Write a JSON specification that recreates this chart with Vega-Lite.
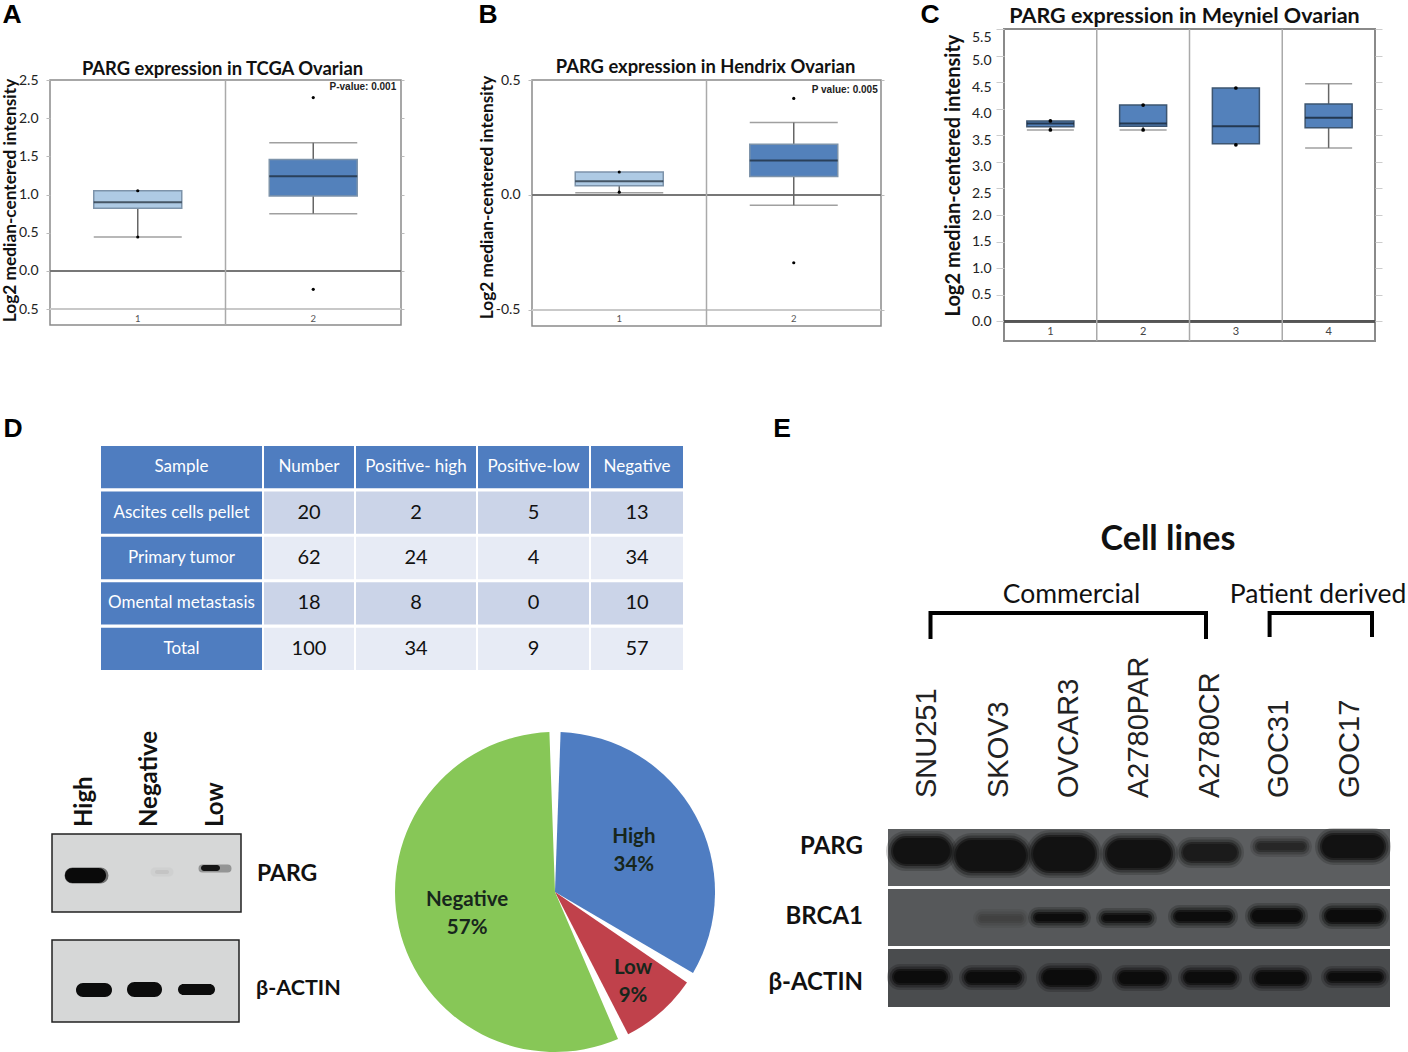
{"$schema":"https://vega.github.io/schema/vega-lite/v6.json","padding":0,"background":"white","bounds":"flush","spacing":0,
"config":{"view":{"stroke":null},"scale":{"bandPaddingInner":0,"bandPaddingOuter":0},"text":{"font":"Liberation Sans"}},
"datasets":{"table":[
{"col":"Sample","row":"Header","value":"Sample"},{"col":"Sample","row":"Ascites cells pellet","value":"Ascites cells pellet"},{"col":"Sample","row":"Primary tumor","value":"Primary tumor"},{"col":"Sample","row":"Omental metastasis","value":"Omental metastasis"},{"col":"Sample","row":"Total","value":"Total"},
{"col":"Number","row":"Header","value":"Number"},{"col":"Number","row":"Ascites cells pellet","value":"20"},{"col":"Number","row":"Primary tumor","value":"62"},{"col":"Number","row":"Omental metastasis","value":"18"},{"col":"Number","row":"Total","value":"100"},
{"col":"High","row":"Header","value":"Positive- high"},{"col":"High","row":"Ascites cells pellet","value":"2"},{"col":"High","row":"Primary tumor","value":"24"},{"col":"High","row":"Omental metastasis","value":"8"},{"col":"High","row":"Total","value":"34"},
{"col":"Low","row":"Header","value":"Positive-low"},{"col":"Low","row":"Ascites cells pellet","value":"5"},{"col":"Low","row":"Primary tumor","value":"4"},{"col":"Low","row":"Omental metastasis","value":"0"},{"col":"Low","row":"Total","value":"9"},
{"col":"Negative","row":"Header","value":"Negative"},{"col":"Negative","row":"Ascites cells pellet","value":"13"},{"col":"Negative","row":"Primary tumor","value":"34"},{"col":"Negative","row":"Omental metastasis","value":"10"},{"col":"Negative","row":"Total","value":"57"}],
"pie":[{"name":"High","pct":34,"i":1,"label":"High\n34%"},{"name":"Low","pct":9,"i":2,"label":"Low\n9%"},{"name":"Negative","pct":57,"i":3,"label":"Negative\n57%"}],
"gel":[{"start":5,"end":62,"top":9,"bottom":35,"density":0.97},{"start":68,"end":138,"top":11,"bottom":42,"density":0.97},{"start":145,"end":207,"top":8,"bottom":42,"density":0.97},{"start":219,"end":283,"top":11,"bottom":39,"density":0.97},{"start":295,"end":349,"top":15,"bottom":32,"density":0.92},{"start":369,"end":417,"top":14,"bottom":21,"density":0.85},{"start":434,"end":496,"top":6,"bottom":29,"density":0.97},
{"start":92,"end":134,"top":87,"bottom":92,"density":0.7},{"start":147,"end":196,"top":85,"bottom":92,"density":1},{"start":215,"end":262,"top":86,"bottom":92,"density":1},{"start":287,"end":343,"top":83,"bottom":92,"density":1},{"start":364,"end":413,"top":81,"bottom":93,"density":1},{"start":438,"end":494,"top":81,"bottom":93,"density":1},
{"start":6,"end":58,"top":142,"bottom":154,"density":1},{"start":78,"end":132,"top":143,"bottom":154,"density":1},{"start":155,"end":207,"top":141,"bottom":156,"density":1},{"start":231,"end":277,"top":143,"bottom":155,"density":1},{"start":297,"end":347,"top":143,"bottom":154,"density":1},{"start":368,"end":417,"top":143,"bottom":155,"density":1},{"start":440,"end":494,"top":144,"bottom":152,"density":1}]},
"vconcat":[
{"hconcat":[{"width":1,"height":1,"data":{"values":[{}]},"mark":{"type":"rect","opacity":0},"encoding":{}},{"vconcat":[{"width":1,"height":3,"data":{"values":[{}]},"mark":{"type":"rect","opacity":0},"encoding":{}},{"width":22,"height":24,"data":{"values":[{"t":"A"}]},"mark":{"type":"text","fontWeight":"bold","fontSize":26.5},"encoding":{"text":{"field":"t"}}}],"spacing":0,"bounds":"flush"}],"spacing":0,"bounds":"flush"},
{"hconcat":[{"width":476,"height":1,"data":{"values":[{}]},"mark":{"type":"rect","opacity":0},"encoding":{}},{"vconcat":[{"width":1,"height":3,"data":{"values":[{}]},"mark":{"type":"rect","opacity":0},"encoding":{}},{"width":24,"height":24,"data":{"values":[{"t":"B"}]},"mark":{"type":"text","fontWeight":"bold","fontSize":26.5},"encoding":{"text":{"field":"t"}}}],"spacing":0,"bounds":"flush"}],"spacing":0,"bounds":"flush"},
{"hconcat":[{"width":918,"height":1,"data":{"values":[{}]},"mark":{"type":"rect","opacity":0},"encoding":{}},{"vconcat":[{"width":1,"height":3,"data":{"values":[{}]},"mark":{"type":"rect","opacity":0},"encoding":{}},{"width":24,"height":24,"data":{"values":[{"t":"C"}]},"mark":{"type":"text","fontWeight":"bold","fontSize":26.5},"encoding":{"text":{"field":"t"}}}],"spacing":0,"bounds":"flush"}],"spacing":0,"bounds":"flush"},
{"hconcat":[{"width":1,"height":1,"data":{"values":[{}]},"mark":{"type":"rect","opacity":0},"encoding":{}},{"vconcat":[{"width":1,"height":417,"data":{"values":[{}]},"mark":{"type":"rect","opacity":0},"encoding":{}},{"width":24,"height":24,"data":{"values":[{"t":"D"}]},"mark":{"type":"text","fontWeight":"bold","fontSize":26.5},"encoding":{"text":{"field":"t"}}}],"spacing":0,"bounds":"flush"}],"spacing":0,"bounds":"flush"},
{"hconcat":[{"width":770,"height":1,"data":{"values":[{}]},"mark":{"type":"rect","opacity":0},"encoding":{}},{"vconcat":[{"width":1,"height":417,"data":{"values":[{}]},"mark":{"type":"rect","opacity":0},"encoding":{}},{"width":24,"height":24,"data":{"values":[{"t":"E"}]},"mark":{"type":"text","fontWeight":"bold","fontSize":26.5},"encoding":{"text":{"field":"t"}}}],"spacing":0,"bounds":"flush"}],"spacing":0,"bounds":"flush"},

{"hconcat":[{"width":50,"height":1,"data":{"values":[{}]},"mark":{"type":"rect","opacity":0},"encoding":{}},{"vconcat":[{"width":1,"height":80,"data":{"values":[{}]},"mark":{"type":"rect","opacity":0},"encoding":{}},
{"width":351,"height":245,"view":{"stroke":"#8a8a8a","strokeWidth":1.5},
"title":{"text":"PARG expression in TCGA Ovarian","font":"Lato","fontSize":18.4,"fontWeight":"bold","color":"#111","anchor":"middle","offset":-5,"dx":-3},
"data":{"values":[{"g":1,"q1":0.82,"q3":1.05,"med":0.9,"lo":0.445},{"g":2,"q1":0.98,"q3":1.46,"med":1.24,"lo":0.75,"hi":1.68},{"g":1,"out":1.05},{"g":1,"out":0.445},{"g":2,"out":2.27},{"g":2,"out":-0.24}]},
"resolve":{"axis":{"y":"independent"}},
"layer":[
{"mark":{"type":"rule","color":"#c8c8c8","strokeWidth":1.5},"encoding":{"y":{"datum":-0.5,"type":"quantitative","scale":{"domain":[-0.707,2.5],"nice":false,"zero":false},"axis":{"orient":"left","values":[2.5,2,1.5,1,0.5,0,-0.5],"labelExpr":"format(abs(datum.value),'.1f')","title":"Log2 median-centered intensity","titleFont":"Lato","titleFontSize":17.3,"titleFontWeight":"bold","titleColor":"#111","titleX":-40,"titleY":120,"titleBaseline":"middle","domain":false,"tickSize":4,"tickColor":"#bbb","labelFont":"Lato","labelFontSize":14,"labelColor":"#222","labelPadding":8}}}},
{"mark":{"type":"rule","color":"#777","strokeWidth":1.5},"encoding":{"y":{"datum":0,"type":"quantitative","axis":null}}},
{"transform":[{"filter":"datum.g>1 && isValid(datum.q1)"}],"mark":{"type":"rule","color":"#aaa","strokeWidth":1.5},"encoding":{"x":{"field":"g","type":"ordinal","bandPosition":0,"axis":null}}},
{"mark":{"type":"rule","color":"#666","strokeWidth":1.5},"encoding":{"x":{"field":"g","type":"ordinal","axis":null},"y":{"field":"lo","type":"quantitative","axis":null},"y2":{"field":"q1"}}},
{"mark":{"type":"rule","color":"#666","strokeWidth":1.5},"encoding":{"x":{"field":"g","type":"ordinal","axis":null},"y":{"field":"hi","type":"quantitative","axis":{"orient":"right","values":[2.5,2,1.5,1,0.5,0,-0.5],"labels":false,"title":null,"domain":false,"tickSize":3,"tickColor":"#bbb"}},"y2":{"field":"q3"}}},
{"mark":{"type":"tick","color":"#777","size":88,"thickness":1.5},"encoding":{"x":{"field":"g","type":"ordinal","axis":null},"y":{"field":"lo","type":"quantitative","axis":null}}},
{"mark":{"type":"tick","color":"#777","size":88,"thickness":1.5},"encoding":{"x":{"field":"g","type":"ordinal","axis":null},"y":{"field":"hi","type":"quantitative","axis":null}}},
{"mark":{"type":"bar","size":88,"stroke":"#7d93aa","strokeWidth":1.5},"encoding":{"x":{"field":"g","type":"ordinal","axis":null},"y":{"field":"q1","type":"quantitative","axis":null},"y2":{"field":"q3"},"fill":{"condition":{"test":"datum.g==1","value":"#aecae4"},"value":"#5381bb"}}},
{"mark":{"type":"tick","color":"#1a2530","size":88,"thickness":2},"encoding":{"x":{"field":"g","type":"ordinal","axis":null},"y":{"field":"med","type":"quantitative","axis":null}}},
{"mark":{"type":"circle","color":"#000","size":10,"opacity":1},"encoding":{"x":{"field":"g","type":"ordinal","axis":null},"y":{"field":"out","type":"quantitative","axis":null}}},
{"transform":[{"filter":"isValid(datum.q1)"}],"mark":{"type":"text","font":"Lato","fontSize":9.5,"color":"#555"},"encoding":{"x":{"field":"g","type":"ordinal","axis":null},"y":{"datum":-0.63,"type":"quantitative","axis":null},"text":{"field":"g","type":"ordinal"}}},
{"data":{"values":[{"g":2,"p":"P-value: 0.001"}]},"mark":{"type":"text","align":"right","dx":83,"fontSize":10,"fontWeight":"bold","color":"#222"},"encoding":{"x":{"field":"g","type":"ordinal","axis":null},"y":{"datum":2.41,"type":"quantitative","axis":null},"text":{"field":"p"}}}
]}],"spacing":0,"bounds":"flush"}],"spacing":0,"bounds":"flush"},

{"hconcat":[{"width":532,"height":1,"data":{"values":[{}]},"mark":{"type":"rect","opacity":0},"encoding":{}},{"vconcat":[{"width":1,"height":80,"data":{"values":[{}]},"mark":{"type":"rect","opacity":0},"encoding":{}},
{"width":349,"height":246,"view":{"stroke":"#8a8a8a","strokeWidth":1.5},
"title":{"text":"PARG expression in Hendrix Ovarian","font":"Lato","fontSize":18.4,"fontWeight":"bold","color":"#111","anchor":"middle","offset":-3,"dx":-1},
"data":{"values":[{"g":1,"q1":0.04,"q3":0.1,"med":0.06,"lo":0.01},{"g":2,"q1":0.08,"q3":0.22,"med":0.15,"lo":-0.045,"hi":0.315},{"g":1,"out":0.1},{"g":1,"out":0.012},{"g":2,"out":0.42},{"g":2,"out":-0.295}]},
"resolve":{"axis":{"y":"independent"}},
"layer":[
{"mark":{"type":"rule","color":"#c8c8c8","strokeWidth":1.5},"encoding":{"y":{"datum":-0.5,"type":"quantitative","scale":{"domain":[-0.57,0.5],"nice":false,"zero":false},"axis":{"orient":"left","values":[0.5,0,-0.5],"labelExpr":"(datum.value<0?'-':'')+format(abs(datum.value),'.1f')","title":"Log2 median-centered intensity","titleFont":"Lato","titleFontSize":17.3,"titleFontWeight":"bold","titleColor":"#111","titleX":-45,"titleY":117,"titleBaseline":"middle","domain":false,"tickSize":4,"tickColor":"#bbb","labelFont":"Lato","labelFontSize":14,"labelColor":"#222","labelPadding":8}}}},
{"mark":{"type":"rule","color":"#777","strokeWidth":1.5},"encoding":{"y":{"datum":0,"type":"quantitative","axis":null}}},
{"transform":[{"filter":"datum.g>1 && isValid(datum.q1)"}],"mark":{"type":"rule","color":"#aaa","strokeWidth":1.5},"encoding":{"x":{"field":"g","type":"ordinal","bandPosition":0,"axis":null}}},
{"mark":{"type":"rule","color":"#666","strokeWidth":1.5},"encoding":{"x":{"field":"g","type":"ordinal","axis":null},"y":{"field":"lo","type":"quantitative","axis":null},"y2":{"field":"q1"}}},
{"mark":{"type":"rule","color":"#666","strokeWidth":1.5},"encoding":{"x":{"field":"g","type":"ordinal","axis":null},"y":{"field":"hi","type":"quantitative","axis":{"orient":"right","values":[0.5,0,-0.5],"labels":false,"title":null,"domain":false,"tickSize":3,"tickColor":"#bbb"}},"y2":{"field":"q3"}}},
{"mark":{"type":"tick","color":"#777","size":88,"thickness":1.5},"encoding":{"x":{"field":"g","type":"ordinal","axis":null},"y":{"field":"lo","type":"quantitative","axis":null}}},
{"mark":{"type":"tick","color":"#777","size":88,"thickness":1.5},"encoding":{"x":{"field":"g","type":"ordinal","axis":null},"y":{"field":"hi","type":"quantitative","axis":null}}},
{"mark":{"type":"bar","size":88,"stroke":"#7d93aa","strokeWidth":1.5},"encoding":{"x":{"field":"g","type":"ordinal","axis":null},"y":{"field":"q1","type":"quantitative","axis":null},"y2":{"field":"q3"},"fill":{"condition":{"test":"datum.g==1","value":"#aecae4"},"value":"#5381bb"}}},
{"mark":{"type":"tick","color":"#1a2530","size":88,"thickness":2},"encoding":{"x":{"field":"g","type":"ordinal","axis":null},"y":{"field":"med","type":"quantitative","axis":null}}},
{"mark":{"type":"circle","color":"#000","size":10,"opacity":1},"encoding":{"x":{"field":"g","type":"ordinal","axis":null},"y":{"field":"out","type":"quantitative","axis":null}}},
{"transform":[{"filter":"isValid(datum.q1)"}],"mark":{"type":"text","font":"Lato","fontSize":9.5,"color":"#555"},"encoding":{"x":{"field":"g","type":"ordinal","axis":null},"y":{"datum":-0.54,"type":"quantitative","axis":null},"text":{"field":"g","type":"ordinal"}}},
{"data":{"values":[{"g":2,"p":"P value: 0.005"}]},"mark":{"type":"text","align":"right","dx":84,"fontSize":10,"fontWeight":"bold","color":"#222"},"encoding":{"x":{"field":"g","type":"ordinal","axis":null},"y":{"datum":0.455,"type":"quantitative","axis":null},"text":{"field":"p"}}}
]}],"spacing":0,"bounds":"flush"}],"spacing":0,"bounds":"flush"},

{"hconcat":[{"width":1004,"height":1,"data":{"values":[{}]},"mark":{"type":"rect","opacity":0},"encoding":{}},{"vconcat":[{"width":1,"height":29,"data":{"values":[{}]},"mark":{"type":"rect","opacity":0},"encoding":{}},
{"width":371,"height":312,"view":{"stroke":"#8a8a8a","strokeWidth":2},
"title":{"text":"PARG expression in Meyniel Ovarian","font":"Lato","fontSize":21.5,"fontWeight":"bold","color":"#111","anchor":"middle","offset":1,"dx":-5},
"data":{"values":[{"g":1,"q1":3.66,"q3":3.77,"med":3.72,"lo":3.6},{"g":2,"q1":3.67,"q3":4.07,"med":3.72,"lo":3.6},{"g":3,"q1":3.34,"q3":4.39,"med":3.67},{"g":4,"q1":3.64,"q3":4.09,"med":3.83,"lo":3.26,"hi":4.47},{"g":1,"out":3.77},{"g":1,"out":3.6},{"g":2,"out":4.07},{"g":2,"out":3.6},{"g":3,"out":4.39},{"g":3,"out":3.32}]},
"resolve":{"axis":{"y":"independent"}},
"layer":[
{"mark":{"type":"rule","color":"#555","strokeWidth":2},"encoding":{"y":{"datum":0,"type":"quantitative","scale":{"domain":[-0.37,5.5],"nice":false,"zero":false},"axis":{"orient":"left","values":[5.5,5,4.5,4,3.5,3,2.5,2,1.5,1,0.5,0],"format":".1f","labelOffset":{"condition":[{"test":"datum.value>5.2","value":8},{"test":"datum.value>2.2","value":5}],"value":0},"title":"Log2 median-centered intensity","titleFont":"Lato","titleFontSize":20,"titleFontWeight":"bold","titleColor":"#111","titleX":-51,"titleY":146,"titleBaseline":"middle","domain":false,"tickSize":8,"tickColor":"#ccc","labelFont":"Lato","labelFontSize":14,"labelColor":"#222","labelPadding":5}}}},
{"transform":[{"filter":"datum.g>1 && isValid(datum.q1)"}],"mark":{"type":"rule","color":"#aaa","strokeWidth":1.5},"encoding":{"x":{"field":"g","type":"ordinal","bandPosition":0,"axis":null}}},
{"mark":{"type":"rule","color":"#666","strokeWidth":1.5},"encoding":{"x":{"field":"g","type":"ordinal","axis":null},"y":{"field":"lo","type":"quantitative","axis":null},"y2":{"field":"q1"}}},
{"mark":{"type":"rule","color":"#666","strokeWidth":1.5},"encoding":{"x":{"field":"g","type":"ordinal","axis":null},"y":{"field":"hi","type":"quantitative","axis":{"orient":"right","values":[5.5,5,4.5,4,3.5,3,2.5,2,1.5,1,0.5,0],"labels":false,"title":null,"domain":false,"tickSize":7,"tickColor":"#ccc"}},"y2":{"field":"q3"}}},
{"mark":{"type":"tick","color":"#777","size":47,"thickness":1.5},"encoding":{"x":{"field":"g","type":"ordinal","axis":null},"y":{"field":"lo","type":"quantitative","axis":null}}},
{"mark":{"type":"tick","color":"#777","size":47,"thickness":1.5},"encoding":{"x":{"field":"g","type":"ordinal","axis":null},"y":{"field":"hi","type":"quantitative","axis":null}}},
{"mark":{"type":"bar","size":47,"stroke":"#3d5570","strokeWidth":1.5,"fill":"#5381bb"},"encoding":{"x":{"field":"g","type":"ordinal","axis":null},"y":{"field":"q1","type":"quantitative","axis":null},"y2":{"field":"q3"}}},
{"mark":{"type":"tick","color":"#101a24","size":47,"thickness":2},"encoding":{"x":{"field":"g","type":"ordinal","axis":null},"y":{"field":"med","type":"quantitative","axis":null}}},
{"mark":{"type":"circle","color":"#000","size":14,"opacity":1},"encoding":{"x":{"field":"g","type":"ordinal","axis":null},"y":{"field":"out","type":"quantitative","axis":null}}},
{"transform":[{"filter":"isValid(datum.q1)"}],"mark":{"type":"text","font":"Lato","fontSize":11,"color":"#444"},"encoding":{"x":{"field":"g","type":"ordinal","axis":null},"y":{"datum":-0.21,"type":"quantitative","axis":null},"text":{"field":"g","type":"ordinal"}}}
]}],"spacing":0,"bounds":"flush"}],"spacing":0,"bounds":"flush"},

{"hconcat":[{"width":101,"height":1,"data":{"values":[{}]},"mark":{"type":"rect","opacity":0},"encoding":{}},{"vconcat":[{"width":1,"height":446,"data":{"values":[{}]},"mark":{"type":"rect","opacity":0},"encoding":{}},
{"hconcat":[
{"width":161,"height":224,"data":{"name":"table"},"transform":[{"filter":"datum.col==='Sample'"}],"encoding":{"y":{"field":"row","type":"nominal","axis":null,"scale":{"domain":["Header","Ascites cells pellet","Primary tumor","Omental metastasis","Total"],"paddingInner":0.067,"paddingOuter":0}}},"layer":[{"mark":"rect","encoding":{"fill":{"value":"#4f7dc0"}}},{"mark":{"type":"text","font":"Lato","fontSize":17,"fill":"white"},"encoding":{"text":{"field":"value"}}}]},
{"width":90,"height":224,"data":{"name":"table"},"transform":[{"filter":"datum.col==='Number'"}],"encoding":{"y":{"field":"row","type":"nominal","axis":null,"scale":{"domain":["Header","Ascites cells pellet","Primary tumor","Omental metastasis","Total"],"paddingInner":0.067,"paddingOuter":0}}},"layer":[{"mark":"rect","encoding":{"fill":{"condition":[{"test":"datum.row==='Header'","value":"#4f7dc0"},{"test":"datum.row==='Ascites cells pellet'||datum.row==='Omental metastasis'","value":"#cbd4e8"}],"value":"#e7ebf5"}}},{"mark":{"type":"text","font":"Lato"},"encoding":{"text":{"field":"value"},"size":{"condition":{"test":"datum.row==='Header'","value":17},"value":20},"fill":{"condition":{"test":"datum.row==='Header'","value":"white"},"value":"#111"}}}]},
{"width":120,"height":224,"data":{"name":"table"},"transform":[{"filter":"datum.col==='High'"}],"encoding":{"y":{"field":"row","type":"nominal","axis":null,"scale":{"domain":["Header","Ascites cells pellet","Primary tumor","Omental metastasis","Total"],"paddingInner":0.067,"paddingOuter":0}}},"layer":[{"mark":"rect","encoding":{"fill":{"condition":[{"test":"datum.row==='Header'","value":"#4f7dc0"},{"test":"datum.row==='Ascites cells pellet'||datum.row==='Omental metastasis'","value":"#cbd4e8"}],"value":"#e7ebf5"}}},{"mark":{"type":"text","font":"Lato"},"encoding":{"text":{"field":"value"},"size":{"condition":{"test":"datum.row==='Header'","value":17},"value":20},"fill":{"condition":{"test":"datum.row==='Header'","value":"white"},"value":"#111"}}}]},
{"width":111,"height":224,"data":{"name":"table"},"transform":[{"filter":"datum.col==='Low'"}],"encoding":{"y":{"field":"row","type":"nominal","axis":null,"scale":{"domain":["Header","Ascites cells pellet","Primary tumor","Omental metastasis","Total"],"paddingInner":0.067,"paddingOuter":0}}},"layer":[{"mark":"rect","encoding":{"fill":{"condition":[{"test":"datum.row==='Header'","value":"#4f7dc0"},{"test":"datum.row==='Ascites cells pellet'||datum.row==='Omental metastasis'","value":"#cbd4e8"}],"value":"#e7ebf5"}}},{"mark":{"type":"text","font":"Lato"},"encoding":{"text":{"field":"value"},"size":{"condition":{"test":"datum.row==='Header'","value":17},"value":20},"fill":{"condition":{"test":"datum.row==='Header'","value":"white"},"value":"#111"}}}]},
{"width":92,"height":224,"data":{"name":"table"},"transform":[{"filter":"datum.col==='Negative'"}],"encoding":{"y":{"field":"row","type":"nominal","axis":null,"scale":{"domain":["Header","Ascites cells pellet","Primary tumor","Omental metastasis","Total"],"paddingInner":0.067,"paddingOuter":0}}},"layer":[{"mark":"rect","encoding":{"fill":{"condition":[{"test":"datum.row==='Header'","value":"#4f7dc0"},{"test":"datum.row==='Ascites cells pellet'||datum.row==='Omental metastasis'","value":"#cbd4e8"}],"value":"#e7ebf5"}}},{"mark":{"type":"text","font":"Lato"},"encoding":{"text":{"field":"value"},"size":{"condition":{"test":"datum.row==='Header'","value":17},"value":20},"fill":{"condition":{"test":"datum.row==='Header'","value":"white"},"value":"#111"}}}]}
],"spacing":2,"bounds":"flush"}],"spacing":0,"bounds":"flush"}],"spacing":0,"bounds":"flush"},

{"hconcat":[{"width":52,"height":1,"data":{"values":[{}]},"mark":{"type":"rect","opacity":0},"encoding":{}},{"vconcat":[{"width":1,"height":834,"data":{"values":[{}]},"mark":{"type":"rect","opacity":0},"encoding":{}},
{"width":189,"height":78,"view":{"fill":"#d6d7d7","stroke":"#222","strokeWidth":1.5},
"encoding":{},
"layer":[
{"data":{"values":[{"start":14,"end":55,"top":35,"bottom":48,"density":1},{"start":100,"end":120,"top":35,"bottom":41,"density":0.05},{"start":148,"end":178,"top":32,"bottom":37,"density":0.6}]},
"mark":{"type":"rect","cornerRadius":30,"strokeWidth":3,"opacity":0.5},
"encoding":{"x":{"field":"start","type":"quantitative","axis":null,"scale":{"domain":[0,189]}},"x2":{"field":"end"},"y":{"field":"top","type":"quantitative","axis":null,"scale":{"domain":[78,0]}},"y2":{"field":"bottom"},"fill":{"field":"density","type":"quantitative","legend":null,"scale":{"domain":[0,1],"range":["#d6d7d7","#0a0a0a"]}},"stroke":{"field":"density","type":"quantitative","legend":null,"scale":{"domain":[0,1],"range":["#d6d7d7","#0a0a0a"]}}}},
{"data":{"values":[{"start":13,"end":54,"top":34,"bottom":49,"density":1},{"start":103,"end":117,"top":36,"bottom":40,"density":0.08},{"start":149,"end":168,"top":31,"bottom":37,"density":0.95}]},
"mark":{"type":"rect","cornerRadius":30},
"encoding":{"x":{"field":"start","type":"quantitative","axis":null,"scale":{"domain":[0,189]}},"x2":{"field":"end"},"y":{"field":"top","type":"quantitative","axis":null,"scale":{"domain":[78,0]}},"y2":{"field":"bottom"},"fill":{"field":"density","type":"quantitative","legend":null,"scale":{"domain":[0,1],"range":["#d6d7d7","#0a0a0a"]}}}},
{"data":{"values":[{"lane":"High","pos":33},{"lane":"Negative","pos":98},{"lane":"Low","pos":164}]},"mark":{"type":"text","font":"Lato","angle":270,"align":"left","baseline":"middle","fontSize":24,"fontWeight":"bold","color":"#111"},"encoding":{"x":{"field":"pos","type":"quantitative","axis":null,"scale":{"domain":[0,189]}},"y":{"datum":-7,"type":"quantitative","axis":null,"scale":{"domain":[78,0]}},"text":{"field":"lane"}}},
{"data":{"values":[{"lane":"PARG","pos":205}]},"mark":{"type":"text","font":"Lato","align":"left","baseline":"middle","fontSize":23,"fontWeight":"bold","color":"#111"},"encoding":{"x":{"field":"pos","type":"quantitative","axis":null,"scale":{"domain":[0,189]}},"y":{"datum":40,"type":"quantitative","axis":null,"scale":{"domain":[78,0]}},"text":{"field":"lane"}}}
]}],"spacing":0,"bounds":"flush"}],"spacing":0,"bounds":"flush"},

{"hconcat":[{"width":52,"height":1,"data":{"values":[{}]},"mark":{"type":"rect","opacity":0},"encoding":{}},{"vconcat":[{"width":1,"height":940,"data":{"values":[{}]},"mark":{"type":"rect","opacity":0},"encoding":{}},
{"width":187,"height":82,"view":{"fill":"#d6d7d7","stroke":"#222","strokeWidth":1.5},
"encoding":{},
"layer":[
{"data":{"values":[{"start":24,"end":60,"top":43,"bottom":57},{"start":75,"end":110,"top":42,"bottom":57},{"start":126,"end":163,"top":44,"bottom":55}]},
"mark":{"type":"rect","cornerRadius":30,"color":"#0c0c0c"},
"encoding":{"x":{"field":"start","type":"quantitative","axis":null,"scale":{"domain":[0,187]}},"x2":{"field":"end"},"y":{"field":"top","type":"quantitative","axis":null,"scale":{"domain":[82,0]}},"y2":{"field":"bottom"}}},
{"data":{"values":[{"lane":"β-ACTIN","pos":204}]},"mark":{"type":"text","font":"Lato","align":"left","baseline":"middle","fontSize":21.5,"fontWeight":"bold","color":"#111"},"encoding":{"x":{"field":"pos","type":"quantitative","axis":null,"scale":{"domain":[0,187]}},"y":{"datum":49,"type":"quantitative","axis":null,"scale":{"domain":[82,0]}},"text":{"field":"lane"}}}
]}],"spacing":0,"bounds":"flush"}],"spacing":0,"bounds":"flush"},

{"hconcat":[{"width":390,"height":1,"data":{"values":[{}]},"mark":{"type":"rect","opacity":0},"encoding":{}},{"vconcat":[{"width":1,"height":733,"data":{"values":[{}]},"mark":{"type":"rect","opacity":0},"encoding":{}},
{"width":330,"height":318,"data":{"name":"pie"},
"encoding":{"theta":{"field":"pct","type":"quantitative","stack":true},"order":{"field":"i"}},
"layer":[
{"mark":{"type":"arc","outerRadius":160,"padAngle":0.07},"encoding":{"color":{"field":"name","type":"nominal","legend":null,"scale":{"domain":["High","Low","Negative"],"range":["#4f7dc2","#c0414b","#87c757"]}}}},
{"mark":{"type":"text","font":"Lato","radius":90,"dy":-12,"lineBreak":"\n","fontSize":20.5,"lineHeight":28,"fontWeight":"bold","color":"#17261c"},"encoding":{"text":{"field":"label"},"opacity":{"condition":{"test":"datum.name==='Low'","value":0},"value":1}}},
{"mark":{"type":"text","font":"Lato","radius":118,"dy":-13,"lineBreak":"\n","fontSize":20.5,"lineHeight":28,"fontWeight":"bold","color":"#17261c"},"encoding":{"text":{"field":"label"},"opacity":{"condition":{"test":"datum.name==='Low'","value":1},"value":0}}}
]}],"spacing":0,"bounds":"flush"}],"spacing":0,"bounds":"flush"},

{"hconcat":[{"width":888,"height":1,"data":{"values":[{}]},"mark":{"type":"rect","opacity":0},"encoding":{}},{"vconcat":[{"width":1,"height":509,"data":{"values":[{}]},"mark":{"type":"rect","opacity":0},"encoding":{}},
{"width":502,"height":498,
"encoding":{},
"layer":[
{"data":{"values":[{"blot":"PARG","start":0,"end":502,"top":0,"bottom":57},{"blot":"BRCA1","start":0,"end":502,"top":60,"bottom":117},{"blot":"ACTIN","start":0,"end":502,"top":120,"bottom":178}]},
"mark":{"type":"rect"},
"encoding":{"x":{"field":"start","type":"quantitative","axis":null,"scale":{"domain":[0,502]}},"x2":{"field":"end"},"y":{"field":"top","type":"quantitative","axis":null,"scale":{"domain":[178,-320]}},"y2":{"field":"bottom"},"fill":{"condition":[{"test":"datum.blot==='PARG'","value":"#5c5e60"},{"test":"datum.blot==='BRCA1'","value":"#56585a"}],"value":"#4a4c4e"}}},
{"data":{"name":"gel"},"mark":{"type":"rect","cornerRadius":30,"strokeWidth":14,"opacity":0.2},"encoding":{"x":{"field":"start","type":"quantitative","axis":null,"scale":{"domain":[0,502]}},"x2":{"field":"end"},"y":{"field":"top","type":"quantitative","axis":null,"scale":{"domain":[178,-320]}},"y2":{"field":"bottom"},"fill":{"field":"density","type":"quantitative","legend":null,"scale":{"domain":[0,1],"range":["#55575a","#101113"]}},"stroke":{"field":"density","type":"quantitative","legend":null,"scale":{"domain":[0,1],"range":["#55575a","#101113"]}}}},
{"data":{"name":"gel"},"mark":{"type":"rect","cornerRadius":30,"strokeWidth":9,"opacity":0.35},"encoding":{"x":{"field":"start","type":"quantitative","axis":null,"scale":{"domain":[0,502]}},"x2":{"field":"end"},"y":{"field":"top","type":"quantitative","axis":null,"scale":{"domain":[178,-320]}},"y2":{"field":"bottom"},"fill":{"field":"density","type":"quantitative","legend":null,"scale":{"domain":[0,1],"range":["#55575a","#101113"]}},"stroke":{"field":"density","type":"quantitative","legend":null,"scale":{"domain":[0,1],"range":["#55575a","#101113"]}}}},
{"data":{"name":"gel"},"mark":{"type":"rect","cornerRadius":30,"strokeWidth":4,"opacity":0.6},"encoding":{"x":{"field":"start","type":"quantitative","axis":null,"scale":{"domain":[0,502]}},"x2":{"field":"end"},"y":{"field":"top","type":"quantitative","axis":null,"scale":{"domain":[178,-320]}},"y2":{"field":"bottom"},"fill":{"field":"density","type":"quantitative","legend":null,"scale":{"domain":[0,1],"range":["#55575a","#101113"]}},"stroke":{"field":"density","type":"quantitative","legend":null,"scale":{"domain":[0,1],"range":["#55575a","#101113"]}}}},
{"data":{"name":"gel"},"mark":{"type":"rect","cornerRadius":30,"opacity":0.85},"encoding":{"x":{"field":"start","type":"quantitative","axis":null,"scale":{"domain":[0,502]}},"x2":{"field":"end"},"y":{"field":"top","type":"quantitative","axis":null,"scale":{"domain":[178,-320]}},"y2":{"field":"bottom"},"fill":{"field":"density","type":"quantitative","legend":null,"scale":{"domain":[0,1],"range":["#55575a","#101113"]}}}},
{"data":{"values":[{"t":"PARG","y":18},{"t":"BRCA1","y":88},{"t":"β-ACTIN","y":154}]},"mark":{"type":"text","font":"Lato","align":"right","fontSize":24,"fontWeight":"bold","color":"#111"},"encoding":{"x":{"datum":-25,"type":"quantitative","axis":null,"scale":{"domain":[0,502]}},"y":{"field":"y","type":"quantitative","axis":null,"scale":{"domain":[178,-320]}},"text":{"field":"t"}}},
{"data":{"values":[{"t":"SNU251","x":39},{"t":"SKOV3","x":110.5},{"t":"OVCAR3","x":180.5},{"t":"A2780PAR","x":251},{"t":"A2780CR","x":322},{"t":"GOC31","x":391},{"t":"GOC17","x":462}]},"mark":{"type":"text","angle":270,"align":"left","baseline":"middle","fontSize":29,"color":"#222"},"encoding":{"x":{"field":"x","type":"quantitative","axis":null,"scale":{"domain":[0,502]}},"y":{"datum":-31,"type":"quantitative","axis":null,"scale":{"domain":[178,-320]}},"text":{"field":"t"}}},
{"data":{"values":[{"b":"c","x":42.5,"y":-190,"o":1},{"b":"c","x":42.5,"y":-216,"o":2},{"b":"c","x":318,"y":-216,"o":3},{"b":"c","x":318,"y":-190,"o":4},{"b":"p","x":381.6,"y":-192,"o":1},{"b":"p","x":381.6,"y":-216,"o":2},{"b":"p","x":484,"y":-216,"o":3},{"b":"p","x":484,"y":-192,"o":4}]},"mark":{"type":"line","color":"#000","strokeWidth":4,"strokeJoin":"miter"},"encoding":{"x":{"field":"x","type":"quantitative","axis":null,"scale":{"domain":[0,502]}},"y":{"field":"y","type":"quantitative","axis":null,"scale":{"domain":[178,-320]}},"detail":{"field":"b"},"order":{"field":"o"}}},
{"data":{"values":[{"t":"Cell lines","x":280,"y":-289}]},"mark":{"type":"text","font":"Lato","fontSize":34,"fontWeight":"bold","color":"#111"},"encoding":{"x":{"field":"x","type":"quantitative","axis":null,"scale":{"domain":[0,502]}},"y":{"field":"y","type":"quantitative","axis":null,"scale":{"domain":[178,-320]}},"text":{"field":"t"}}},
{"data":{"values":[{"t":"Commercial","x":183.5,"y":-234},{"t":"Patient derived","x":430,"y":-234}]},"mark":{"type":"text","font":"Lato","fontSize":26.5,"color":"#111"},"encoding":{"x":{"field":"x","type":"quantitative","axis":null,"scale":{"domain":[0,502]}},"y":{"field":"y","type":"quantitative","axis":null,"scale":{"domain":[178,-320]}},"text":{"field":"t"}}}
]}],"spacing":0,"bounds":"flush"}],"spacing":0,"bounds":"flush"}
]}
